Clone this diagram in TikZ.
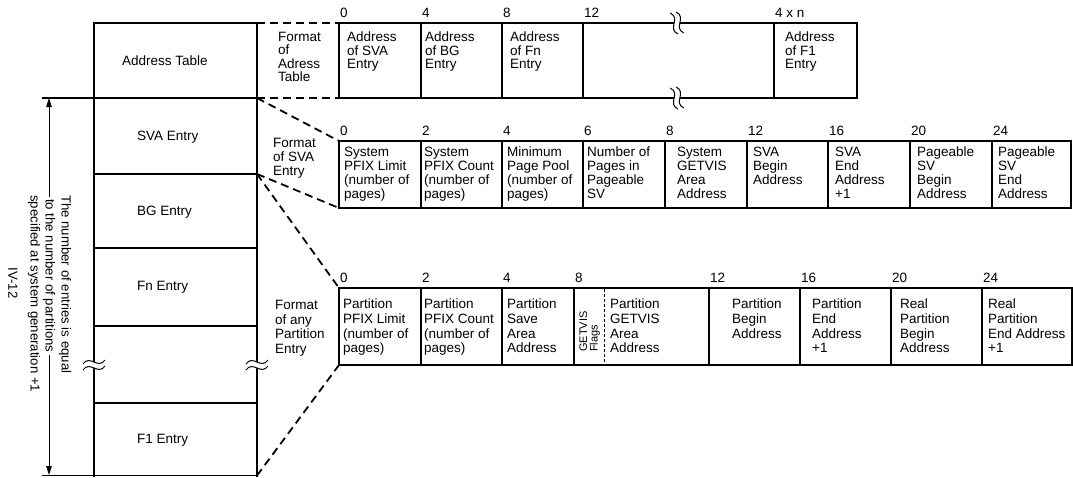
\documentclass[tikz,border=0pt]{standalone}
\usepackage{fontspec}
\setmainfont{Liberation Sans}
\usetikzlibrary{arrows.meta}
\begin{document}
\begin{tikzpicture}[x=1pt,y=-1pt,
  font=\fontsize{13.5}{14}\selectfont,
  frame/.style={line width=1.8pt},
  divider/.style={line width=1.1pt},
  conn/.style={line width=1.8pt,dash pattern=on 8pt off 5pt},
  cell/.style={anchor=north west,inner sep=0pt,align=left},
  offs/.style={anchor=base west,inner sep=0pt},
  entry/.style={anchor=west,inner sep=0pt},
  rot/.style={rotate=-90,anchor=west,inner sep=0pt,font=\fontsize{13.2}{13.2}\selectfont},
  brk/.pic={
    \fill[white] (-11,-1) .. controls (-4,-11) and (4,5) .. (11,-5) -- (11,1) .. controls (4,11) and (-4,-5) .. (-11,5) -- cycle;
    \draw[line width=1pt] (-11,-1) .. controls (-4,-11) and (4,5) .. (11,-5);
    \draw[line width=1pt] (-11,5) .. controls (-4,-5) and (4,11) .. (11,1);
  }]
\useasboundingbox (0,0) rectangle (1073,477);

% ---------- left column ----------
\coordinate (L0) at (94,23);  \coordinate (R0) at (257,23);
\coordinate (R1) at (257,98); \coordinate (R2) at (257,174);
\coordinate (R3) at (257,248); \coordinate (R4) at (257,326);
\coordinate (R5) at (257,403); \coordinate (R6) at (257,475.5);
\coordinate (T1) at (42,98);  \coordinate (T6) at (42,475.5);
\draw[divider] (T1) -- (R1);
\draw[divider] (94,174) -- (R2);
\draw[divider] (94,248) -- (R3);
\draw[divider] (94,326) -- (R4);
\draw[divider] (94,403) -- (R5);
\draw[divider] (T6) -- (R6);
\draw[frame] (94,477) -- (L0) -- (R0) -- (257,477);
\node[entry] (at) at (122,61) {Address Table};
\node[entry] (sva) at (137,137) {SVA Entry};
\node[entry] (bg) at (137,212) {BG Entry};
\node[entry] (fn) at (137,287) {Fn Entry};
\node[entry] (f1) at (137,440) {F1 Entry};
\pic at (94,365) {brk};
\pic at (257,365) {brk};

% ---------- vertical dimension ----------
\node[rot] (l1) at (65,195) {The number of entries is equal};
\node[rot,inner xsep=2pt] (l2) at (49,197) {to the number of partitions};
\node[rot] (l3) at (34,195) {specified at system generation +1};
\node[rot,anchor=center] (pg) at (13,283) {IV-12};
\coordinate (A1) at (49,98);
\coordinate (A2) at (49,475);
\draw[line width=0.9pt,-{Triangle[length=9pt,width=5.5pt]}] (l2.west) -- (A1);
\draw[line width=0.9pt,-{Triangle[length=9pt,width=5.5pt]}] (l2.east) -- (A2);

% ---------- address table format ----------
\coordinate (a0t) at (339,23); \coordinate (a0b) at (339,98);
\draw[frame] (339,23) rectangle (857,98);
\foreach \x in {421,502,583,774} \draw[divider] (\x,23) -- (\x,98);
\node[offs] at (340,17) {0};
\node[offs] at (422,17) {4};
\node[offs] at (503,17) {8};
\node[offs] at (584,17) {12};
\node[offs] at (775,17) {4 x n};
\begin{scope}[font=\fontsize{13.5}{13.5}\selectfont]
\node[cell] (fa) at (278,32) {Format\\of\\Adress\\Table};
\node[cell] at (347,32) {Address\\of SVA\\Entry};
\node[cell] at (425,32) {Address\\of BG\\Entry};
\node[cell] at (510,32) {Address\\of Fn\\Entry};
\node[cell] at (785,32) {Address\\of F1\\Entry};
\end{scope}
\pic[rotate=100] at (677,23) {brk};
\pic[rotate=100] at (677,98) {brk};

% ---------- SVA entry format ----------
\coordinate (s0t) at (339,141); \coordinate (s0b) at (339,208);
\draw[frame] (339,141) rectangle (1071,208);
\foreach \x in {421,502,583,665,747,828,910,992} \draw[divider] (\x,141) -- (\x,208);
\foreach \x/\t in {339/0,421/2,502/4,583/6,665/8,747/12,828/16,910/20,992/24}
  \node[offs] at (\x+1,135) {\t};
\begin{scope}[font=\fontsize{13.5}{13.9}\selectfont]
\node[cell] at (273,138) {Format\\of SVA\\Entry};
\node[cell] at (344,147) {System\\PFIX Limit\\(number of\\pages)};
\node[cell] at (424,147) {System\\PFIX Count\\(number of\\pages)};
\node[cell] at (507,147) {Minimum\\Page Pool\\(number of\\pages)};
\node[cell] at (587,147) {Number of\\Pages in\\Pageable\\SV};
\node[cell] at (677,147) {System\\GETVIS\\Area\\Address};
\node[cell] at (753,147) {SVA\\Begin\\Address};
\node[cell] at (835,147) {SVA\\End\\Address\\+1};
\node[cell] at (917,147) {Pageable\\SV\\Begin\\Address};
\node[cell] at (998,147) {Pageable\\SV\\End\\Address};
\end{scope}

% ---------- partition entry format ----------
\coordinate (p0t) at (339,288); \coordinate (p0b) at (339,365);
\draw[frame] (339,288) rectangle (1072,365);
\foreach \x in {421,502,574,709,800,891,982} \draw[divider] (\x,288) -- (\x,365);
\draw[line width=1pt,dash pattern=on 3pt off 2pt] (604,289) -- (604,364);
\foreach \x/\t in {339/0,421/2,502/4,574/8,709/12,800/16,891/20,982/24}
  \node[offs] at (\x+1,282) {\t};
\begin{scope}[font=\fontsize{13.5}{14.6}\selectfont]
\node[cell] at (275,300) {Format\\of any\\Partition\\Entry};
\node[cell] at (343,299) {Partition\\PFIX Limit\\(number of\\pages)};
\node[cell] at (424,299) {Partition\\PFIX Count\\(number of\\pages)};
\node[cell] at (507,299) {Partition\\Save\\Area\\Address};
\node[cell] at (610,299) {Partition\\GETVIS\\Area\\Address};
\node[cell] at (732,299) {Partition\\Begin\\Address};
\node[cell] at (812,299) {Partition\\End\\Address\\+1};
\node[cell] at (900,299) {Real\\Partition\\Begin\\Address};
\node[cell] at (988,299) {Real\\Partition\\End Address\\+1};
\end{scope}
\node[rotate=90,anchor=base west,inner sep=0pt,font=\fontsize{11}{11}\selectfont] at (587,352) {GETVIS};
\node[rotate=90,anchor=base west,inner sep=0pt,font=\fontsize{11}{11}\selectfont] at (597.5,352) {Flags};

% ---------- dashed connectors ----------
\draw[conn] (R0) -- (a0t);
\draw[conn] (R1) -- (a0b);
\draw[conn] (R1) -- (s0t);
\draw[conn] (R2) -- (s0b);
\draw[conn] (R2) -- (p0t);
\draw[conn] (R6) -- (p0b);
\end{tikzpicture}
\end{document}
